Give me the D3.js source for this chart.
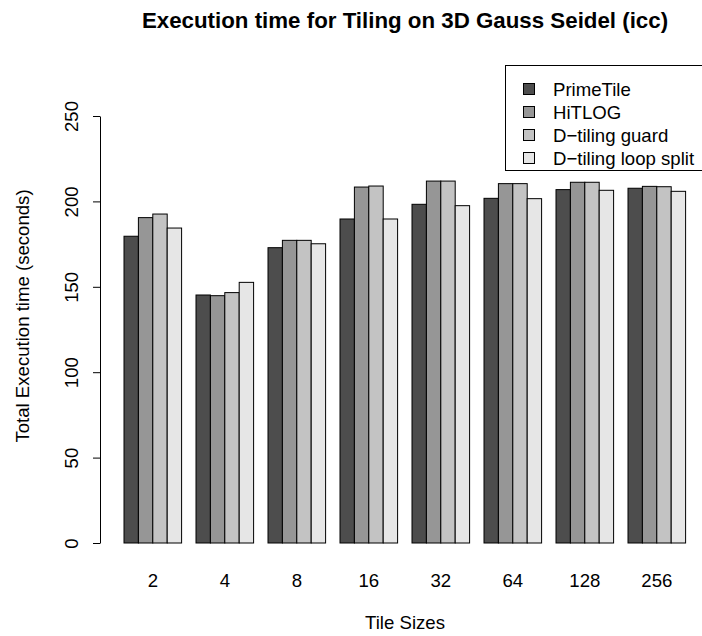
<!DOCTYPE html>
<html>
<head>
<meta charset="utf-8">
<script src="https://cdn.jsdelivr.net/npm/d3@7"></script>
<style>
  html, body { margin: 0; padding: 0; background: #fff; }
  svg { display: block; font-family: "Liberation Sans", Arial, Helvetica, sans-serif; }
</style>
</head>
<body>
<svg id="chart" width="702" height="636"></svg>
<script>
// Tile sizes along the x axis
const tileSizes = ["2", "4", "8", "16", "32", "64", "128", "256"];

// Series names, in bar order within each group
const seriesNames = ["PrimeTile", "HiTLOG", "D\u2212tiling guard", "D\u2212tiling loop split"];

// Total execution time (seconds) per tile size
const primeTile      = [179.6, 145.2, 172.9, 189.7, 198.3, 201.8, 206.9, 207.7];
const hiTLOG         = [190.5, 144.8, 177.2, 208.4, 211.9, 210.4, 211.2, 208.8];
const dTilingGuard   = [192.6, 146.6, 177.2, 209.0, 211.9, 210.4, 211.2, 208.6];
const dTilingSplit   = [184.4, 152.6, 175.2, 189.7, 197.5, 201.6, 206.5, 205.9];

// Y axis ticks
const yTicks = [0, 50, 100, 150, 200, 250];

const seriesValues = [primeTile, hiTLOG, dTilingGuard, dTilingSplit];
const fills = ["#4d4d4d", "#969696", "#c3c3c3", "#e6e6e6"];

const baseFont = 18.6;
const titleFont = 22.3;

const svg = d3.select("#chart");

const y = d3.scaleLinear().domain([0, 250]).range([543, 116]);

const xGroup = d3.scaleBand()
  .domain(tileSizes)
  .range([109.6, 700])
  .paddingInner(0.2)
  .paddingOuter(0.2);

const xSeries = d3.scaleBand()
  .domain(d3.range(seriesNames.length))
  .range([0, xGroup.bandwidth()])
  .padding(0);

const color = d3.scaleOrdinal().domain(d3.range(seriesNames.length)).range(fills);

// Bars
const groups = svg.append("g").selectAll("g")
  .data(tileSizes)
  .join("g")
  .attr("transform", d => `translate(${xGroup(d)},0)`);

groups.selectAll("rect")
  .data((d, gi) => seriesValues.map((vals, si) => ({ si, v: vals[gi] })))
  .join("rect")
  .attr("x", d => xSeries(d.si))
  .attr("width", xSeries.bandwidth())
  .attr("y", d => y(d.v))
  .attr("height", d => y(0) - y(d.v))
  .attr("fill", d => color(d.si))
  .attr("stroke", "#000")
  .attr("stroke-width", 1);

// Y axis: rotated tick labels
const yAxis = svg.append("g")
  .attr("transform", "translate(100,0)")
  .call(d3.axisLeft(y).tickValues(yTicks).tickSize(7).tickSizeOuter(0).tickPadding(0));
yAxis.select(".domain").attr("stroke", "#000").attr("stroke-width", 1);
yAxis.selectAll(".tick line").attr("stroke", "#000");
yAxis.selectAll(".tick text")
  .attr("font-size", baseFont)
  .attr("fill", "#000")
  .attr("text-anchor", "middle")
  .attr("x", 0)
  .attr("dy", 0)
  .attr("transform", "translate(-22,0) rotate(-90)");

// X axis: labels only, no line or ticks
const xAxis = svg.append("g")
  .attr("transform", "translate(0,543)")
  .call(d3.axisBottom(xGroup).tickSize(0).tickPadding(0));
xAxis.select(".domain").remove();
xAxis.selectAll(".tick text")
  .attr("font-size", baseFont)
  .attr("fill", "#000")
  .attr("y", 44)
  .attr("dy", 0);

// Title and axis labels
svg.append("text")
  .attr("x", 405).attr("y", 28)
  .attr("text-anchor", "middle")
  .attr("font-size", titleFont)
  .attr("font-weight", "bold")
  .text("Execution time for Tiling on 3D Gauss Seidel (icc)");

svg.append("text")
  .attr("x", 405).attr("y", 629)
  .attr("text-anchor", "middle")
  .attr("font-size", baseFont)
  .text("Tile Sizes");

svg.append("text")
  .attr("transform", "translate(29,316) rotate(-90)")
  .attr("text-anchor", "middle")
  .attr("font-size", baseFont)
  .text("Total Execution time (seconds)");

// Legend (anchored to the top-right corner of the plotting region)
const legend = svg.append("g");
legend.append("rect")
  .attr("x", 505.5).attr("y", 65.5)
  .attr("width", 204).attr("height", 105)
  .attr("fill", "#fff")
  .attr("stroke", "#000");

const items = legend.selectAll("g.item")
  .data(seriesNames)
  .join("g")
  .attr("class", "item")
  .attr("transform", (d, i) => `translate(0,${89 + i * 23})`);

items.append("rect")
  .attr("x", 523.5).attr("y", -5.5)
  .attr("width", 11).attr("height", 11)
  .attr("fill", (d, i) => color(i))
  .attr("stroke", "#000");

items.append("text")
  .attr("x", 553).attr("y", 6.5)
  .attr("font-size", baseFont)
  .text(d => d);
</script>
</body>
</html>
